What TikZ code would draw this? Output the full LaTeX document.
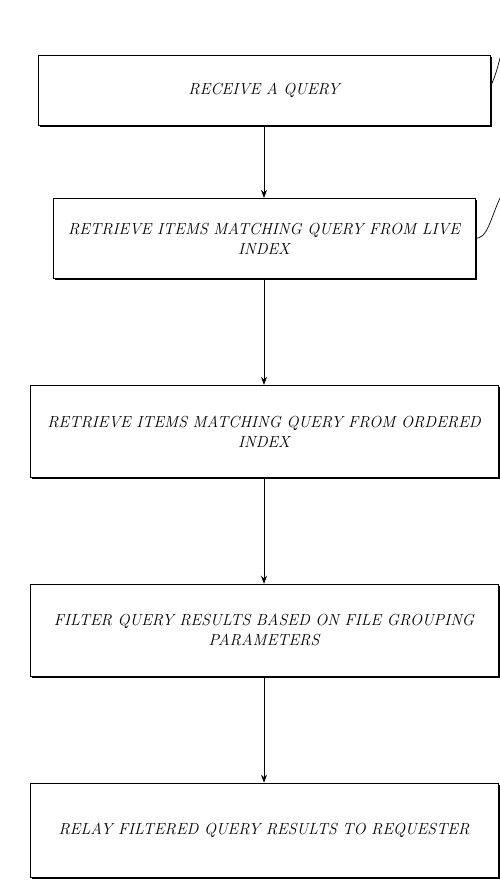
\documentclass[tikz,border=0pt]{standalone}
\usetikzlibrary{shapes.geometric, arrows, arrows.meta, positioning, shadows}
\tikzstyle{process} = [
    rectangle,
    minimum width=468pt,
    minimum height=92pt,
    draw=black,
    line width=0.9pt,
    fill=white,
    align=center,
    font=\fontsize{16}{20}\selectfont\itshape,
    drop shadow={shadow xshift=1.8pt, shadow yshift=-1.8pt, fill=black, opacity=1}
]
\tikzstyle{arrow} = [line width=0.7pt,-{Stealth[length=8pt,width=6pt]}]
\tikzstyle{leader} = [line width=0.7pt]

\begin{document}
\begin{tikzpicture}[x=1pt, y=-1pt, node distance=106pt]
\useasboundingbox (0,0) rectangle (499,896);

\node (receive) [process, minimum width=452pt, minimum height=70pt] at (264,90.5)
{RECEIVE A QUERY};

\node (live) [process, minimum width=422pt, minimum height=80pt, below=72pt of receive]
{RETRIEVE ITEMS MATCHING QUERY FROM LIVE\\INDEX};

\node (ordered) [process, below=of live]
{RETRIEVE ITEMS MATCHING QUERY FROM ORDERED\\INDEX};

\node (filter) [process, below=of ordered]
{FILTER QUERY RESULTS BASED ON FILE GROUPING\\PARAMETERS};

\node (relay) [process, minimum height=94pt, below=of filter]
{RELAY FILTERED QUERY RESULTS TO REQUESTER};

\draw [arrow] (receive) -- (live);
\draw [arrow] (live) -- (ordered);
\draw [arrow] (ordered) -- (filter);
\draw [arrow] (filter) -- (relay);

% reference numeral leaders, cut at the right edge
\coordinate (tag1) at (500,58);
\coordinate (tag2) at (500,198);
\draw [leader] ([yshift=4pt]receive.east) .. controls +(4,-8) and +(-3,12) .. (tag1);
\draw [leader] (live.east) .. controls +(12,0) and +(-10,22) .. (tag2);

\end{tikzpicture}
\end{document}
